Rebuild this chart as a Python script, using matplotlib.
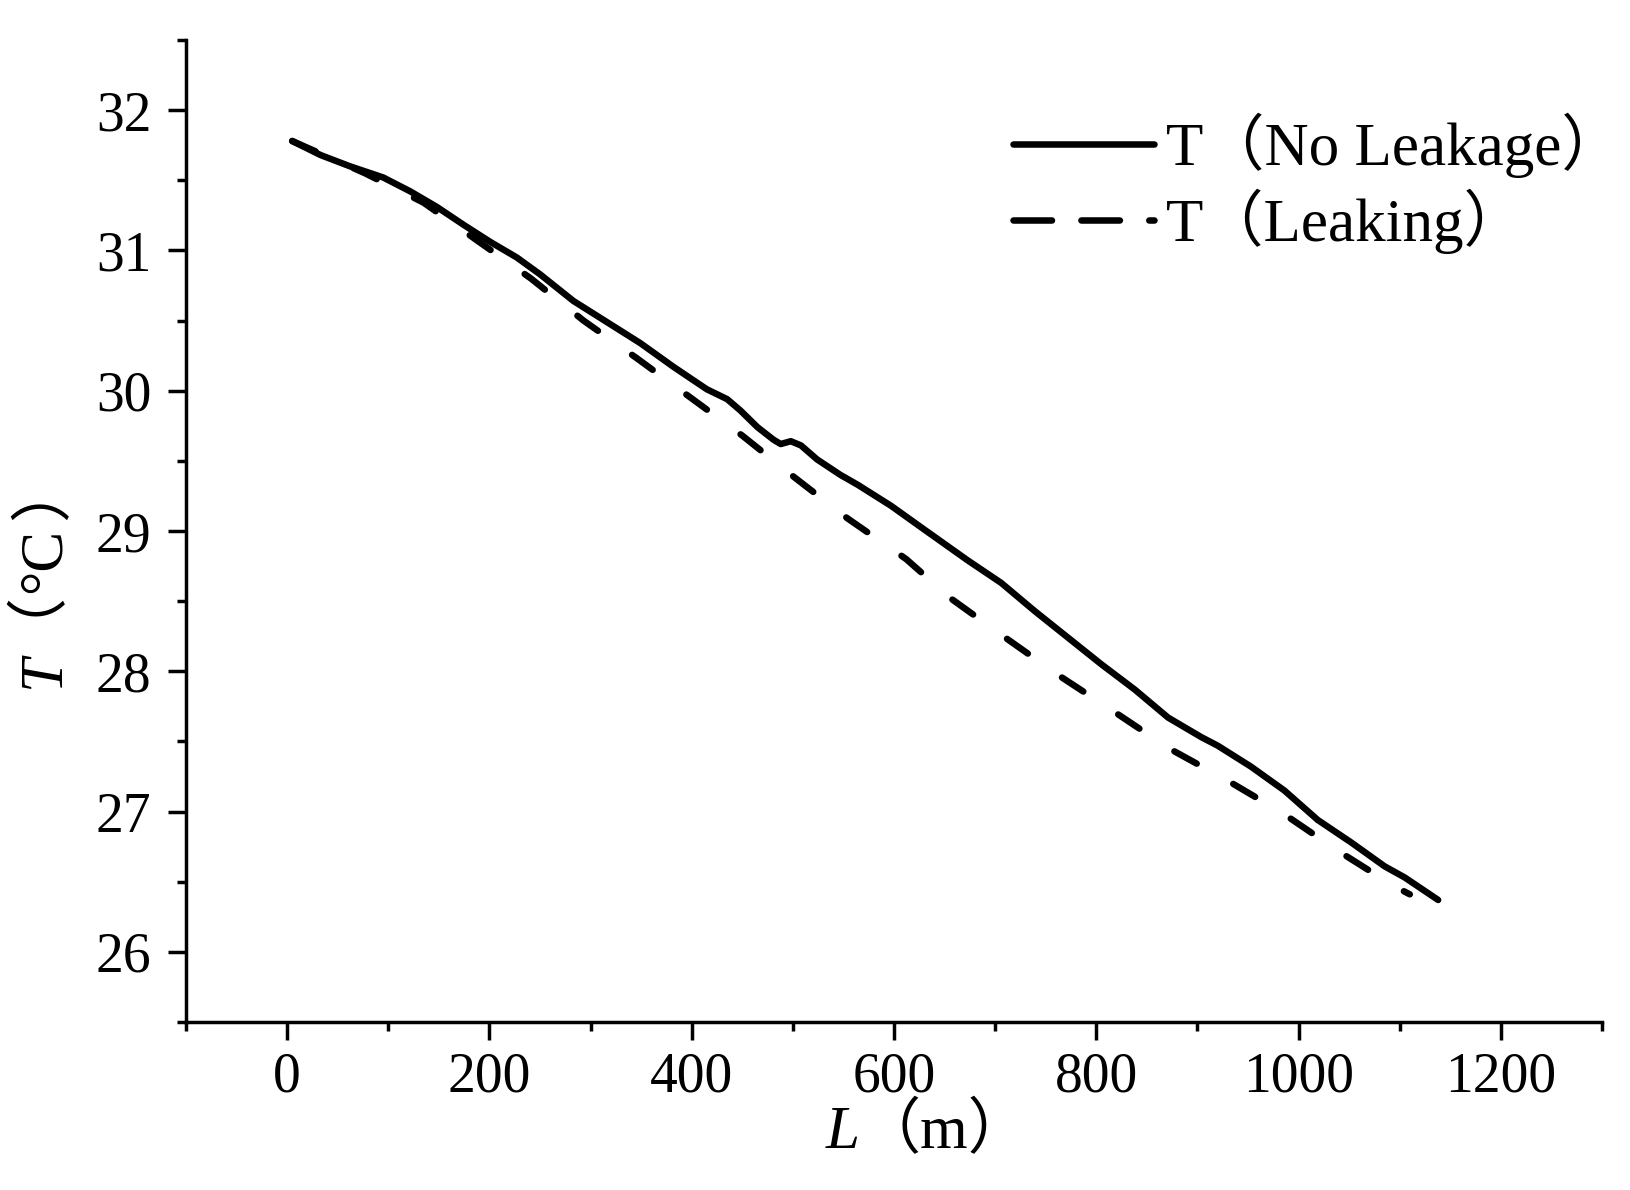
import matplotlib
matplotlib.use("Agg")
import matplotlib.pyplot as plt
from matplotlib.ticker import MultipleLocator

# ---- data ----
L_no_leak = [5, 33, 62, 95, 122, 148, 175, 201, 227, 250, 283, 316, 349, 382, 415,
             435, 448, 465, 481, 488, 498, 508, 524, 547, 564, 597, 630, 673, 706,
             739, 772, 805, 838, 871, 904, 920, 953, 986, 1019, 1052, 1085, 1105, 1138]
T_no_leak = [31.78, 31.68, 31.60, 31.52, 31.42, 31.31, 31.18, 31.06, 30.95, 30.83,
             30.64, 30.49, 30.34, 30.17, 30.01, 29.94, 29.86, 29.74, 29.65, 29.62,
             29.64, 29.61, 29.51, 29.40, 29.33, 29.18, 29.01, 28.79, 28.63, 28.43,
             28.24, 28.05, 27.87, 27.67, 27.53, 27.47, 27.32, 27.15, 26.94, 26.78,
             26.61, 26.53, 26.37]

L_leak = [5, 77, 135, 188, 241, 293, 346, 399, 450, 502, 554, 612, 656, 710, 763,
          818, 872, 930, 984, 1039, 1094, 1110]
T_leak = [31.78, 31.55, 31.34, 31.07, 30.80, 30.50, 30.23, 29.95, 29.68, 29.38,
          29.09, 28.80, 28.52, 28.24, 27.97, 27.71, 27.45, 27.22, 26.99, 26.72,
          26.47, 26.41]

series_labels = ["T（No Leakage）", "T（Leaking）"]
x_ticks = [0, 200, 400, 600, 800, 1000, 1200]
y_ticks = [26, 27, 28, 29, 30, 31, 32]

plt.rcParams["font.family"] = ["Liberation Serif", "Noto Sans CJK SC"]

W, H = 1630, 1190
fig = plt.figure(figsize=(W / 100, H / 100), dpi=100)
ax = fig.add_axes([186 / W, 1 - 1022 / H, (1602 - 186) / W, (1022 - 40) / H])

ax.plot(L_no_leak, T_no_leak, color="black", lw=4.7,
        solid_capstyle="round", solid_joinstyle="round", label=series_labels[0])
ax.plot(L_leak, T_leak, color="black", lw=4.7, ls=(0, (3.9, 6.4)),
        dash_capstyle="round", label=series_labels[1])

ax.set_xlim(-100, 1300)
ax.set_ylim(25.5, 32.5)
ax.set_xticks(x_ticks)
ax.set_yticks(y_ticks)
ax.xaxis.set_minor_locator(MultipleLocator(100))
ax.yaxis.set_minor_locator(MultipleLocator(0.5))

for s in ["top", "right"]:
    ax.spines[s].set_visible(False)
for s in ["left", "bottom"]:
    ax.spines[s].set_linewidth(2.5)

ax.tick_params(which="major", length=13, width=2.5, labelsize=40, direction="out")
ax.tick_params(which="minor", length=6.5, width=2.5, direction="out")
ax.tick_params(axis="y", pad=12)
ax.tick_params(axis="x", pad=8)

leg = ax.legend(loc="upper left", bbox_to_anchor=(1013 / W, 1 - 113 / H),
                bbox_transform=fig.transFigure, frameon=False, fontsize=44,
                handlelength=2.31, handletextpad=0.2, labelspacing=0.17,
                borderpad=0, borderaxespad=0)
leg.get_lines()[1].set_dashes((5.9, 4.5))

# x axis label: italic symbol + full-width brackets
fig.text(860 / W, 1 - 1148 / H, "L", fontsize=44, style="italic",
         ha="right", va="baseline")
fig.text(860 / W, 1 - 1148 / H, "（m）", fontsize=44, ha="left", va="baseline")

# y axis label, drawn piece by piece (rotated text), each in a single font
ylab_pieces = [
    ("T", 44.5, 671.0, dict(style="italic", family="Liberation Serif")),
    ("（", 0.5, 585.0, dict(family="Noto Sans CJK SC")),
    ("°C", 44.5, 560.0, dict(family="Liberation Serif")),
    ("）", 44.5, 489.0, dict(family="Noto Sans CJK SC")),
]
for txt, xc, yc, props in ylab_pieces:
    fig.text(xc / W, 1 - yc / H, txt, fontsize=44, rotation=90,
             rotation_mode="anchor", ha="center", va="center", **props)

fig.savefig("out.png", dpi=100)
